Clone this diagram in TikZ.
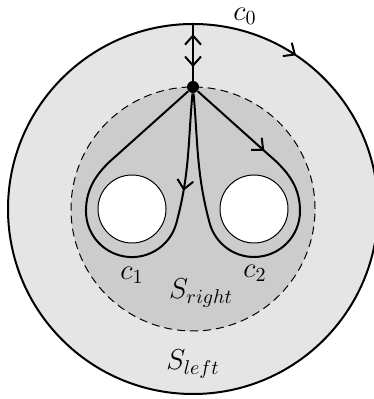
\documentclass[tikz,border=0pt]{standalone}
\usetikzlibrary{arrows.meta, decorations.markings}

\begin{document}
\begin{tikzpicture}[
    x=0.5pt, y=0.5pt,
    font=\fontsize{14}{17}\selectfont,
    >={Straight Barb[length=4.5pt, width=8pt]},
    curve/.style={line width=1pt},
    hole/.style={draw, fill=white, line width=0.5pt},
    dot/.style={circle, fill, inner sep=0pt, minimum size=6pt},
    midarrow/.style={postaction={decorate, decoration={markings,
        mark=at position #1 with {\arrow{>}}}}}]
  \useasboundingbox (0,0) rectangle (373,399);
  \fill[black!10] (193,190) circle[radius=185];
  \fill[black!20] (193,190) circle[radius=122];
  \draw[line width=0.5pt, dash pattern=on 4pt off 2.5pt] (193,190) circle[radius=122];
  \draw[hole] (132,190) circle[radius=34];
  \draw[hole] (254,190) circle[radius=34];

  \coordinate (top) at (193,375);
  \node[dot] (p) at (193,312) {};

  \draw[curve, midarrow=0.094] (top) arc[start angle=90, end angle=-270, radius=185];
  \draw[curve, postaction={decorate, decoration={markings,
      mark=at position 0.24 with {\arrowreversed{>}},
      mark=at position 0.82 with {\arrow{>}}}}] (p) -- (top);

  \draw[curve, midarrow=0.23] (p) to[out=-95, in=75] (176.4,176)
    arc[start angle=-15, end angle=-180, radius=46]
    .. controls (86,210) and (96,226) .. (116,243) -- (p);
  \draw[curve, midarrow=0.21] (p) -- (270,243)
    .. controls (290,226) and (300,210) .. (300,188)
    arc[start angle=0, end angle=-165, radius=46]
    to[out=105, in=-85] (p);

  \node[inner sep=1pt] (l0) at (245,383) {$c_0$};
  \node (l1) at (132,124) {$c_1$};
  \node (l2) at (255,126) {$c_2$};
  \node (sr) at (201,106) {$S_{right}$};
  \node (sl) at (193,35) {$S_{left}$};
\end{tikzpicture}
\end{document}
